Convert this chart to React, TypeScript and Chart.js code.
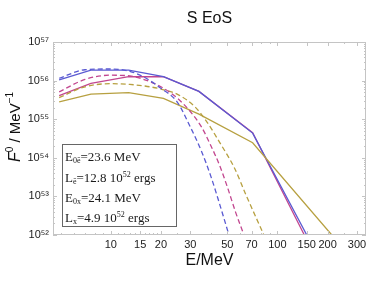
import React, { useEffect, useRef } from 'react';
import { Chart, registerables } from 'chart.js';

Chart.register(...registerables);

// ---- Data ----
const TITLE = 'S EoS';
const X_TITLE = 'E/MeV';
const X_TICKS = [10, 15, 20, 30, 50, 70, 100, 150, 200, 300];
const X_MINOR = [5, 6, 7, 8, 9, 11, 12, 13, 14, 16, 17, 18, 19, 25, 40, 60, 80, 90, 250];
const Y_TICKS = [1e52, 1e53, 1e54, 1e55, 1e56, 1e57];
const X_MIN = 4.5;
const X_MAX = 340;

const blueSolidE = [4.9, 7.6, 12.8, 20.7, 33.8, 71, 150];
const blueSolidF = [1.05e56, 1.86e56, 1.86e56, 1.26e56, 5.25e55, 4.37e54, 1.0e52];

const magentaSolidE = [4.9, 7.6, 12.8, 20.7, 33.8, 71, 145];
const magentaSolidF = [4.07e55, 8.51e55, 1.26e56, 1.26e56, 5.25e55, 4.47e54, 1.0e52];

const oliveSolidE = [4.9, 7.6, 12.8, 20.7, 33.8, 71, 212];
const oliveSolidF = [2.82e55, 4.47e55, 4.9e55, 3.47e55, 1.35e55, 2.45e54, 1.0e52];

const blueDashE = [4.9, 7, 10, 13, 16, 20, 25, 30, 35, 40, 45, 52];
const blueDashF = [1.15e56, 1.91e56, 2.0e56, 1.74e56, 1.2e56, 6.31e55, 2.82e55, 6.31e54, 1.48e54, 3.16e53, 6.31e52, 7.94e51];

const magentaDashE = [4.9, 7, 10, 13, 16, 20, 25, 30, 35, 40, 45, 50, 56, 64];
const magentaDashF = [5.13e55, 1.07e56, 1.38e56, 1.32e56, 1.05e56, 6.92e55, 3.55e55, 1.58e55, 6.31e54, 2.0e54, 6.31e53, 1.78e53, 3.98e52, 8.32e51];

const oliveDashE = [4.9, 7, 10, 13, 16, 20, 25.5, 32, 37.6, 45, 55, 65, 75, 84];
const oliveDashF = [3.63e55, 6.92e55, 8.32e55, 7.94e55, 7.24e55, 6.03e55, 4.27e55, 2.09e55, 8.71e54, 2.51e54, 5.62e53, 1.05e53, 2.63e52, 8.91e51];

// legend box text: segments [text, kind] where kind: n = normal, b = sub, p = sup
const LEGEND_LINES: [string, string][][] = [
  [['E', 'n'], ['0ē', 'b'], ['=23.6 MeV', 'n']],
  [['L', 'n'], ['ē', 'b'], ['=12.8 10', 'n'], ['52', 'p'], [' ergs', 'n']],
  [['E', 'n'], ['0x', 'b'], ['=24.1 MeV', 'n']],
  [['L', 'n'], ['x', 'b'], ['=4.9 10', 'n'], ['52', 'p'], [' ergs', 'n']],
];

const COLORS = {
  blue: '#5a5ad2',
  magenta: '#c2468f',
  olive: '#b7a040',
};

const SANS = '"Liberation Sans", Arial, Helvetica, sans-serif';
const SERIF = '"Liberation Serif", "Times New Roman", serif';
const SUP_DIGITS: Record<string, string> = { '0': '⁰', '1': '¹', '2': '²', '3': '³', '4': '⁴', '5': '⁵', '6': '⁶', '7': '⁷', '8': '⁸', '9': '⁹', '-': '⁻' };

function toPoints(xs: number[], ys: number[]) {
  return xs.map((x, i) => ({ x, y: ys[i] }));
}

function supText(s: string) {
  return s.split('').map((c) => SUP_DIGITS[c] || c).join('');
}

function drawRich(ctx: CanvasRenderingContext2D, segs: [string, string][], x: number, y: number, size: number, family: string) {
  let cx = x;
  for (const [t, k] of segs) {
    if (k === 'n') {
      ctx.font = `${size}px ${family}`;
      ctx.fillText(t, cx, y);
    } else if (k === 'b') {
      ctx.font = `${Math.round(size * 0.6)}px ${family}`;
      ctx.fillText(t, cx, y + 2);
    } else {
      ctx.font = `${Math.round(size * 0.62)}px ${family}`;
      ctx.fillText(t, cx, y - 5);
    }
    cx += ctx.measureText(t).width;
  }
  return cx - x;
}

const decorPlugin = {
  id: 'decor',
  afterDraw(chart: any) {
    const { ctx, chartArea } = chart;
    const { left, right, top, bottom } = chartArea;
    const xs = chart.scales.x;
    const ys = chart.scales.y;
    ctx.save();
    // frame
    ctx.strokeStyle = '#c4c4c4';
    ctx.lineWidth = 1;
    ctx.strokeRect(left + 0.5, top + 0.5, right - left - 1, bottom - top - 1);
    // x ticks (inside, top and bottom)
    ctx.beginPath();
    const xt = (v: number, len: number) => {
      const p = Math.round(xs.getPixelForValue(v)) + 0.5;
      ctx.moveTo(p, bottom);
      ctx.lineTo(p, bottom - len);
      ctx.moveTo(p, top);
      ctx.lineTo(p, top + len);
    };
    X_TICKS.forEach((v) => xt(v, 4));
    X_MINOR.forEach((v) => xt(v, 2));
    // y ticks
    const yt = (v: number, len: number) => {
      const p = Math.round(ys.getPixelForValue(v)) + 0.5;
      ctx.moveTo(left, p);
      ctx.lineTo(left + len, p);
      ctx.moveTo(right, p);
      ctx.lineTo(right - len, p);
    };
    Y_TICKS.forEach((v) => yt(v, 4));
    for (let i = 0; i < Y_TICKS.length - 1; i++) {
      for (let m = 2; m <= 9; m++) yt(Y_TICKS[i] * m, 2);
    }
    ctx.stroke();

    // title
    ctx.fillStyle = '#111';
    ctx.textAlign = 'center';
    ctx.textBaseline = 'middle';
    ctx.font = `16px ${SANS}`;
    ctx.fillText(TITLE, (left + right) / 2, 19);
    // x title
    ctx.fillText(X_TITLE, (left + right) / 2, 261);

    // y title rotated
    ctx.save();
    ctx.translate(20, 127);
    ctx.rotate(-Math.PI / 2);
    ctx.textAlign = 'left';
    ctx.textBaseline = 'alphabetic';
    const segsY: [string, string][] = [['F', 'i'], ['0', 'p'], [' / MeV', 'n'], ['−1', 'p']];
    let w = 0;
    const fontFor = (k: string) => (k === 'i' ? `italic 16px ${SANS}` : k === 'p' ? `10px ${SANS}` : `15px ${SANS}`);
    segsY.forEach(([t, k]) => { ctx.font = fontFor(k); w += ctx.measureText(t).width; });
    let cx = -w / 2;
    segsY.forEach(([t, k]) => {
      ctx.font = fontFor(k);
      ctx.fillText(t, cx, k === 'p' ? -7 : 0);
      cx += ctx.measureText(t).width;
    });
    ctx.restore();

    // legend box
    const bx = 62, by = 144, bw = 114, bh = 82;
    ctx.fillStyle = '#ffffff';
    ctx.fillRect(bx, by, bw, bh);
    ctx.strokeStyle = '#666';
    ctx.lineWidth = 1;
    ctx.strokeRect(bx + 0.5, by + 0.5, bw, bh);
    ctx.fillStyle = '#1a1a1a';
    ctx.textAlign = 'left';
    ctx.textBaseline = 'alphabetic';
    const baselines = [161, 181.5, 201.5, 221.5];
    LEGEND_LINES.forEach((segs, i) => drawRich(ctx, segs, 65, baselines[i], 13, SERIF));
    ctx.restore();
  },
};

export default function App() {
  const ref = useRef<HTMLCanvasElement>(null);
  useEffect(() => {
    document.body.style.margin = '0';
    const canvas = ref.current!;
    const dashed = [5, 3];
    const chart = new Chart(canvas, {
      type: 'line',
      data: {
        datasets: [
          { data: toPoints(blueDashE, blueDashF), borderColor: COLORS.blue, borderDash: dashed, cubicInterpolationMode: 'monotone' },
          { data: toPoints(magentaDashE, magentaDashF), borderColor: COLORS.magenta, borderDash: dashed, cubicInterpolationMode: 'monotone' },
          { data: toPoints(oliveDashE, oliveDashF), borderColor: COLORS.olive, borderDash: dashed, cubicInterpolationMode: 'monotone' },
          { data: toPoints(oliveSolidE, oliveSolidF), borderColor: COLORS.olive },
          { data: toPoints(blueSolidE, blueSolidF), borderColor: COLORS.blue },
          { data: toPoints(magentaSolidE, magentaSolidF), borderColor: COLORS.magenta },
        ].map((d) => ({ ...d, borderWidth: 1.3, pointRadius: 0, fill: false, tension: 0 })) as any,
      },
      options: {
        animation: false,
        responsive: false,
        devicePixelRatio: 1,
        layout: { padding: { top: 42, right: 8, bottom: 0, left: 0 } },
        plugins: { legend: { display: false }, title: { display: false }, tooltip: { enabled: false } },
        scales: {
          x: {
            type: 'logarithmic',
            min: X_MIN,
            max: X_MAX,
            grid: { display: false, drawTicks: false },
            border: { display: false },
            afterBuildTicks: (s: any) => { s.ticks = X_TICKS.map((v) => ({ value: v })); },
            afterFit: (s: any) => { s.height = 54; },
            ticks: {
              autoSkip: false,
              maxRotation: 0,
              padding: 3,
              color: '#222',
              font: { size: 11, family: SANS },
              callback: (v: any) => String(v),
            },
          },
          y: {
            type: 'logarithmic',
            min: 1e52,
            max: 1e57,
            grid: { display: false, drawTicks: false },
            border: { display: false },
            afterBuildTicks: (s: any) => { s.ticks = Y_TICKS.map((v) => ({ value: v })); },
            afterFit: (s: any) => { s.width = 53; },
            ticks: {
              autoSkip: false,
              padding: 4,
              color: '#222',
              font: { size: 11, family: SANS },
              callback: (v: any) => '10' + supText(String(Math.round(Math.log10(Number(v))))),
            },
          },
        },
      } as any,
      plugins: [decorPlugin],
    });
    return () => chart.destroy();
  }, []);
  return <canvas ref={ref} width={374} height={289} style={{ display: 'block' }} />;
}
